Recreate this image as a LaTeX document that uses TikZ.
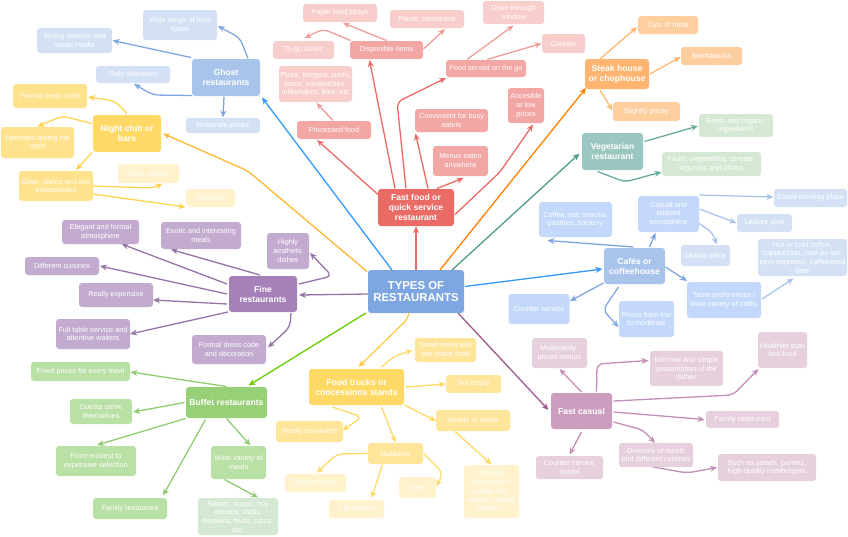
\documentclass[tikz,border=0pt]{standalone}
\usepackage{fontspec}
\setmainfont{Liberation Sans}
\usetikzlibrary{calc,arrows.meta}
\pgfdeclarelayer{bg}
\pgfsetlayers{bg,main}
\definecolor{cMain}{HTML}{7EA6E0}
\definecolor{ghostF}{HTML}{A9C4EB}
\definecolor{ghostL}{HTML}{D4E1F5}
\definecolor{ffF}{HTML}{EA6B66}
\definecolor{ffL}{HTML}{F2A7A5}
\definecolor{ffLL}{HTML}{F8CECC}
\definecolor{nightF}{HTML}{FFD966}
\definecolor{nightL}{HTML}{FFE28C}
\definecolor{nightLL}{HTML}{FFF2CC}
\definecolor{steakF}{HTML}{FFB570}
\definecolor{steakL}{HTML}{FFCE9F}
\definecolor{vegF}{HTML}{9AC7BF}
\definecolor{vegL}{HTML}{D5E8D4}
\definecolor{cafF}{HTML}{A9C4EB}
\definecolor{cafL}{HTML}{C3D8FA}
\definecolor{cafLL}{HTML}{D4E1F5}
\definecolor{fineF}{HTML}{A680B8}
\definecolor{fineL}{HTML}{C3ABD0}
\definecolor{bufF}{HTML}{97D077}
\definecolor{bufL}{HTML}{B9E0A5}
\definecolor{bufLL}{HTML}{D5E8D4}
\definecolor{truckF}{HTML}{FFD966}
\definecolor{truckL}{HTML}{FFE599}
\definecolor{truckLL}{HTML}{FFF2CC}
\definecolor{fcF}{HTML}{CC9DBE}
\definecolor{fcL}{HTML}{E6D0DE}
% edge colours
\definecolor{eGhostM}{HTML}{3399FF}
\definecolor{eNightM}{HTML}{FFB833}
\definecolor{eFF}{HTML}{EA6B66}
\definecolor{eFFL}{HTML}{F19C99}
\definecolor{eSteakM}{HTML}{FF8000}
\definecolor{eSteak}{HTML}{FFB570}
\definecolor{eVegM}{HTML}{509A8C}
\definecolor{eVeg}{HTML}{67AB9F}
\definecolor{eCafM}{HTML}{3399FF}
\definecolor{eBlue}{HTML}{7EA6E0}
\definecolor{eBlueL}{HTML}{A9C4EB}
\definecolor{eFine}{HTML}{9673A6}
\definecolor{eBufM}{HTML}{66CC00}
\definecolor{eBuf}{HTML}{8FCC6E}
\definecolor{eTruckM}{HTML}{FFC94D}
\definecolor{eNight}{HTML}{FFD34D}
\definecolor{eTruck}{HTML}{FFD966}
\definecolor{eFCM}{HTML}{A0588A}
\definecolor{eFC}{HTML}{C48FB6}
\tikzset{
  bx/.style={rectangle, rounded corners=3pt, align=center, text=white, inner sep=1pt,
    font=\fontsize{7.3}{8.7}\selectfont},
  mn/.style={bx, font=\bfseries\fontsize{8.6}{10}\selectfont},
  sz/.style 2 args={minimum width=#1pt, minimum height=#2pt},
  arr/.style={-{Stealth[length=7pt,width=6pt]}, line width=1.3pt, rounded corners=6pt},
}
\begin{document}
\begin{tikzpicture}[x=1pt,y=-1pt]
\useasboundingbox (0,0) rectangle (848,536);
% central
\node[bx, fill=cMain, sz={96}{43}, font=\bfseries\fontsize{11.4}{12.3}\selectfont] (main) at (416,291.5) {TYPES OF\\RESTAURANTS};
% ghost
\node[mn, fill=ghostF, sz={68}{37}] (ghost) at (226,77.5) {Ghost\\restaurants};
\node[bx, fill=ghostL, sz={74}{30}] (wr) at (180,25) {Wide range of food\\types};
\node[bx, fill=ghostL, sz={75}{25}] (sw) at (74.5,40.5) {Strong website and\\social media};
\node[bx, fill=ghostL, sz={74}{17}] (od) at (133,74.5) {Only deliveries};
\node[bx, fill=ghostL, sz={74}{15}] (mp) at (223,125.5) {Moderate prices};
% night club
\node[mn, fill=nightF, sz={68}{37}] (nc) at (127,133.5) {Night club or\\bars};
\node[bx, fill=nightL, sz={74}{24}] (fd) at (50,96) {Formal dress code};
\node[bx, fill=nightL, sz={73}{31}] (op) at (37.5,142.5) {Operates during the\\night};
\node[bx, fill=nightL, sz={74}{30}] (dn) at (56,186) {Diner, dance and live\\entertaiment};
\node[bx, fill=nightLL, sz={61}{19}] (fls) at (148.5,173.5) {Floor shows};
\node[bx, fill=nightLL, sz={49}{18}] (cb) at (210.5,198) {Cabarets};
% fast food
\node[mn, fill=ffF, sz={76}{37}] (ff) at (416,207.5) {Fast food or\\quick service\\restaurant};
\node[bx, fill=ffL, sz={74}{18}] (pf) at (334,130) {Processed food};
\node[bx, fill=ffLL, sz={73}{36}] (pz) at (315.5,84) {Pizza, burgers, sushi,\\tacos, sandwiches,\\milkshakes, fries, etc};
\node[bx, fill=ffL, sz={73}{18}] (di) at (386.5,50) {Disponible items};
\node[bx, fill=ffLL, sz={61}{18}] (tg) at (303.5,50) {To-go bolws};
\node[bx, fill=ffLL, sz={74}{18}] (ps) at (340,13) {Paper food strays};
\node[bx, fill=ffLL, sz={74}{18}] (pc) at (427,19) {Plastic containers};
\node[bx, fill=ffL, sz={80}{17}] (fs) at (486,68.5) {Food served on the go};
\node[bx, fill=ffLL, sz={61}{23}] (dt) at (513.5,12.5) {Drive-through\\window};
\node[bx, fill=ffLL, sz={43}{19}] (ct) at (563.5,43.5) {Counter};
\node[bx, fill=ffL, sz={73}{23}] (cv) at (451.5,120.5) {Convenient for busy\\eaters};
\node[bx, fill=ffL, sz={55}{30}] (me) at (460.5,161) {Menus eaten\\anywhere};
\node[bx, fill=ffL, sz={36}{35}] (ac) at (526,105.5) {Accesible\\or low\\prices};
% steak
\node[mn, fill=steakF, sz={64}{30}] (st) at (617,74) {Steak house\\or chophouse};
\node[bx, fill=steakL, sz={60}{18}] (cm) at (668,25) {Cuts of meat};
\node[bx, fill=steakL, sz={61}{18}] (bf) at (711.5,56) {Beefsteacks};
\node[bx, fill=steakL, sz={67}{19}] (sp) at (646.5,111.5) {Slightly pricey};
% vegetarian
\node[mn, fill=vegF, sz={61}{37}] (vg) at (612.5,151.5) {Vegetarian\\restaurant};
\node[bx, fill=vegL, sz={74}{23}] (fo) at (736,125.5) {Fresh and organic\\ingredients};
\node[bx, fill=vegL, sz={99}{24}] (fr) at (711.5,164) {Fruits, vegetables, cereals,\\legumes and others};
% cafes
\node[mn, fill=cafF, sz={61}{36}] (cf) at (634.5,266) {Cafés or\\coffeehouse};
\node[bx, fill=cafL, sz={73}{35}] (co) at (575.5,219.5) {Coffee, tea, snacks,\\pastries, backery};
\node[bx, fill=cafL, sz={61}{36}] (ca) at (668.5,214) {Casual and\\relaxed\\atmosphere};
\node[bx, fill=cafLL, sz={73}{18}] (smp) at (810.5,198) {Social meeting place};
\node[bx, fill=cafLL, sz={55}{18}] (ls) at (764.5,223) {Leisure spot};
\node[bx, fill=cafLL, sz={49}{21}] (mo) at (705.5,255.5) {Mobile office};
\node[bx, fill=cafLL, sz={89}{37}] (hc) at (802.5,257.5) {Hot or cold coffee,\\cappuccino, café au lait,\\pure espresso, caffeinated\\latte};
\node[bx, fill=cafL, sz={61}{30}] (cs) at (539,309) {Counter service};
\node[bx, fill=cafL, sz={74}{36}] (tp) at (724,300) {Taste preferences /\\wide variety of cafés};
\node[bx, fill=cafL, sz={55}{36}] (pl) at (646.5,319) {Prices from low\\to moderate};
% fine
\node[mn, fill=fineF, sz={68}{36}] (fi) at (263,294) {Fine\\restaurants};
\node[bx, fill=fineL, sz={77}{24}] (el) at (100.5,232) {Elegant and formal\\atmosphere};
\node[bx, fill=fineL, sz={80}{27}] (ex) at (201,235.5) {Exotic and interesting\\meals};
\node[bx, fill=fineL, sz={42}{36}] (ha) at (288,251) {Highly\\aesthetic\\dishes};
\node[bx, fill=fineL, sz={74}{18}] (dc) at (62,266) {Different cuisines};
\node[bx, fill=fineL, sz={74}{24}] (re) at (116,295) {Really expensive};
\node[bx, fill=fineL, sz={74}{30}] (fu) at (93,334) {Full table service and\\attentive waiters};
\node[bx, fill=fineL, sz={74}{29}] (fdd) at (229,349.5) {Formal dress code\\and decoration};
% buffet
\node[mn, fill=bufF, sz={81}{31}] (bu) at (226.5,402.5) {Buffet restaurants};
\node[bx, fill=bufL, sz={99}{19}] (fp) at (80.5,371.5) {Fixed prices for every meal};
\node[bx, fill=bufL, sz={62}{25}] (gs) at (101,411.5) {Guests serve\\themselves};
\node[bx, fill=bufL, sz={80}{30}] (ms) at (96,461) {From modest to\\expensive selection};
\node[bx, fill=bufL, sz={74}{21}] (fg) at (130,508.5) {Family restaurant};
\node[bx, fill=bufL, sz={55}{33}] (wv) at (238.5,462.5) {Wide variety of\\meals};
\node[bx, fill=bufLL, sz={80}{37}] (sl) at (238,516.5) {Salads, soups, hoy\\entrees, starts,\\desserts, fruits, pizza,\\etc.};
% food trucks
\node[mn, fill=truckF, sz={95}{36}] (ft) at (356.5,387) {Food trucks or\\concessions stands};
\node[bx, fill=truckL, sz={61}{24}] (smm) at (445.5,350) {Small menu and\\pre-made food};
\node[bx, fill=truckL, sz={55}{18}] (ncs) at (473.5,384) {Not costly};
\node[bx, fill=truckL, sz={74}{21}] (vm) at (473,420.5) {Variety of meals};
\node[bx, fill=truckL, sz={67}{21}] (rc) at (309.5,431.5) {Really convinient};
\node[bx, fill=truckL, sz={55}{21}] (ou) at (395.5,453.5) {Outdoors};
\node[bx, fill=truckLL, sz={61}{18}] (se) at (315.5,483) {Sports events};
\node[bx, fill=truckLL, sz={37}{21}] (fa) at (417.5,487.5) {Fairs};
\node[bx, fill=truckLL, sz={55}{18}] (cy) at (356.5,509) {City streets};
\node[bx, fill=truckLL, sz={55}{53}] (hd) at (491.5,491.5) {Hotdogs,\\sandwiches,\\panini, ice-\\cream, organic\\burgers...};
% fast casual
\node[mn, fill=fcF, sz={61}{36}] (fc) at (581.5,411) {Fast casual};
\node[bx, fill=fcL, sz={55}{30}] (mpm) at (559.5,353) {Moderately-\\priced menus};
\node[bx, fill=fcL, sz={73}{35}] (ip) at (686.5,368.5) {Informal and simple\\presentation of the\\dishes};
\node[bx, fill=fcL, sz={49}{36}] (ht) at (782.5,350) {Healthier than\\fast-food};
\node[bx, fill=fcL, sz={73}{17}] (frs) at (742.5,419.5) {Family restaurant};
\node[bx, fill=fcL, sz={74}{24}] (dv) at (656,455) {Diversity of meals\\and different cuisines};
\node[bx, fill=fcL, sz={67}{23}] (csm) at (569.5,467.5) {Counter service\\model};
\node[bx, fill=fcL, sz={98}{27}] (sa) at (767,467.5) {Such as salads, paninis,\\high-quality hamburgers};

\begin{pgfonlayer}{bg}
% main edges
\draw[arr, draw=eGhostM] ($(main)+(-24,-21.5)$) -- ($(ghost)+(36,20)$);
\draw[arr, draw=eNightM] ($(main)+(-49,-20)$) -- (248,171) -- ($(nc)+(36,0)$);
\draw[arr, draw=eFF] (main.north) -- (ff.south);
\draw[arr, draw=eSteakM] ($(main)+(24,-21.5)$) -- ($(st)+(-31,14)$);
\draw[arr, draw=eVegM] ($(main)+(36,-21.5)$) -- ($(vg)+(-33,2)$);
\draw[arr, draw=eCafM] ($(main)+(49,-5)$) -- ($(cf)+(-32,3)$);
\draw[arr, draw=eFine] ($(main)+(-48,2.5)$) -- ($(fi)+(36,1)$);
\draw[arr, draw=eBufM] ($(main)+(-50,21.5)$) -- ($(bu)+(22,-17)$);
\draw[arr, draw=eTruckM] ($(main)+(-7,21.5)$) -- ($(main)+(-7,26)$) -- ($(ft)+(2,-20)$);
\draw[arr, draw=eFCM] ($(main)+(42,21.5)$) -- ($(fc)+(-33,-1)$);
% fast food
\draw[arr, draw=eFF] ($(ff)+(-38,-13)$) -- ($(pf)+(-17,10)$);
\draw[arr, draw=eFF] ($(ff)+(-21,-19)$) -- ($(di)+(-17,10)$);
\draw[arr, draw=eFF] ($(ff)+(-10,-19)$) -- (397,102) -- ($(fs)+(-40,9.5)$);
\draw[arr, draw=eFF] ($(ff)+(12,-19)$) -- ($(cv)+(-36,13)$);
\draw[arr, draw=eFF] ($(ff)+(21,-19)$) -- ($(me)+(3,17)$);
\draw[arr, draw=eFF] ($(ff)+(39,7)$) -- (500,172) -- ($(ac)+(7,19)$);
\draw[arr, draw=eFFL] ($(pf)+(-1,-9.5)$) -- ($(pz)+(1,19)$);
\draw[arr, draw=eFFL] ($(di)+(-36,-9.5)$) -- (323,29) -- ($(tg)+(1,-12)$);
\draw[arr, draw=eFFL] ($(di)+(0,-9.5)$) -- ($(ps)+(3,10)$);
\draw[arr, draw=eFFL] ($(di)+(37,-1)$) -- ($(pc)+(18,10)$);
\draw[arr, draw=eFFL] ($(fs)+(-19,-9)$) -- ($(dt)+(0,13)$);
\draw[arr, draw=eFFL] ($(fs)+(1,-9)$) -- ($(ct)+(-22,0)$);
% ghost
\draw[arr, draw=eBlue] ($(ghost)+(22,-19)$) -- (240,38) -- ($(wr)+(38,1)$);
\draw[arr, draw=eBlue] ($(ghost)+(-35,-20)$) -- ($(sw)+(38,0)$);
\draw[arr, draw=eBlue] ($(ghost)+(-34,18)$) -- (153,95) -- ($(od)+(1,9.5)$);
\draw[arr, draw=eBlue] ($(ghost)+(-2,19)$) -- ($(mp)+(0,-8)$);
% night club
\draw[arr, draw=eNight] ($(nc)+(0,-20)$) -- (115,101) -- ($(fd)+(38,1)$);
\draw[arr, draw=eNight] ($(nc)+(-35,-10)$) -- (62,116) -- ($(op)+(0,-16)$);
\draw[arr, draw=eNight] ($(nc)+(-35,19)$) -- ($(dn)+(20,-16)$);
\draw[arr, draw=eNight] ($(dn)+(37,0)$) -- (154,188) -- ($(fls)+(14,10)$);
\draw[arr, draw=eNight] ($(dn)+(37,8)$) -- ($(cb)+(-25,9)$);
% steak
\draw[arr, draw=eSteak] ($(st)+(-17,-15)$) -- ($(cm)+(-31,2)$);
\draw[arr, draw=eSteak] ($(st)+(33,0)$) -- ($(bf)+(-31,1)$);
\draw[arr, draw=eSteak] ($(st)+(-17,16)$) -- ($(sp)+(-34,-1)$);
% vegetarian
\draw[arr, draw=eVeg] ($(vg)+(32,-10)$) -- ($(fo)+(-38,0.5)$);
\draw[arr, draw=eVeg] ($(vg)+(-15,20)$) -- (625,182) -- ($(fr)+(-50,8)$);
% cafes
\draw[arr, draw=eBlue] ($(cf)+(-1,-19)$) -- ($(co)+(-28,21)$);
\draw[arr, draw=eBlue] ($(cf)+(15,-19)$) -- ($(ca)+(-13,19)$);
\draw[arr, draw=eBlue] ($(cf)+(-16,21)$) -- (603,310) -- ($(pl)+(-28,8)$);
\draw[arr, draw=eBlue] ($(cf)+(-31,17)$) -- ($(cs)+(31,-8)$);
\draw[arr, draw=eBlue] ($(cf)+(31,1)$) -- ($(tp)+(-37,-19)$);
\draw[arr, draw=eBlueL] ($(ca)+(31,-19)$) -- ($(smp)+(-37,-1)$);
\draw[arr, draw=eBlueL] ($(ca)+(31,-5)$) -- ($(ls)+(-28,0)$);
\draw[arr, draw=eBlueL] ($(ca)+(30,9)$) -- (713,233) -- ($(mo)+(11,-11)$);
\draw[arr, draw=eBlueL] ($(tp)+(38,-1)$) -- ($(hc)+(-9,21)$);
% fine
\draw[arr, draw=eFine] ($(fi)+(-36,-10)$) -- ($(el)+(21,12)$);
\draw[arr, draw=eFine] ($(fi)+(-3,-19)$) -- ($(ex)+(-30,14)$);
\draw[arr, draw=eFine] ($(fi)+(36,-10)$) -- (332,276) -- ($(ha)+(22,2)$);
\draw[arr, draw=eFine] ($(fi)+(-36,0)$) -- ($(dc)+(38,0)$);
\draw[arr, draw=eFine] ($(fi)+(-36,10)$) -- ($(re)+(37,5)$);
\draw[arr, draw=eFine] ($(fi)+(-35,18)$) -- ($(fu)+(37,0)$);
\draw[arr, draw=eFine] ($(fi)+(28,19)$) -- (290,327) -- ($(fdd)+(39,-2)$);
% buffet
\draw[arr, draw=eBuf] ($(bu)+(0,-16)$) -- ($(fp)+(50,0.5)$);
\draw[arr, draw=eBuf] ($(bu)+(-42,0)$) -- ($(gs)+(32,0.5)$);
\draw[arr, draw=eBuf] ($(bu)+(-41,16)$) -- ($(ms)+(1,-16)$);
\draw[arr, draw=eBuf] ($(bu)+(-21,17)$) -- ($(fg)+(33,-13)$);
\draw[arr, draw=eBuf] ($(bu)+(0,16)$) -- ($(wv)+(12,-17)$);
\draw[arr, draw=eBuf] ($(wv)+(-14,17)$) -- ($(sl)+(20,-19)$);
% food trucks
\draw[arr, draw=eTruck] ($(ft)+(25,-20)$) -- (393,357) -- ($(smm)+(-33,0)$);
\draw[arr, draw=eTruck] ($(ft)+(49,0)$) -- ($(ncs)+(-28,0)$);
\draw[arr, draw=eTruck] ($(ft)+(48,18)$) -- ($(vm)+(-37,0.5)$);
\draw[arr, draw=eTruck] ($(ft)+(-24,20)$) -- (362,417) -- ($(rc)+(33,-1)$);
\draw[arr, draw=eTruck] ($(ft)+(25,20)$) -- ($(ou)+(0,-11)$);
\draw[arr, draw=eTruck] ($(ou)+(-28,0)$) -- (337,454) -- ($(se)+(1,-10)$);
\draw[arr, draw=eTruck] ($(ou)+(-13,11)$) -- ($(cy)+(15,-11)$);
\draw[arr, draw=eTruck] ($(ou)+(28,0)$) -- (443,473) -- ($(fa)+(19,-1)$);
\draw[arr, draw=eTruck] ($(vm)+(-18,11)$) -- ($(hd)+(0,-27)$);
% fast casual
\draw[arr, draw=eFC] ($(fc)+(0,-19)$) -- ($(mpm)+(0,16)$);
\draw[arr, draw=eFC] ($(fc)+(15,-19)$) -- (597,364) -- ($(ip)+(-38,-8)$);
\draw[arr, draw=eFC] ($(fc)+(32,-10)$) -- (733,395) -- ($(ht)+(-24,19)$);
\draw[arr, draw=eFC] ($(fc)+(32,1)$) -- ($(frs)+(-38,0)$);
\draw[arr, draw=eFC] ($(fc)+(32,11)$) -- (643,430) -- ($(dv)+(-1,-12)$);
\draw[arr, draw=eFC] ($(fc)+(0,21)$) -- ($(csm)+(0,-13)$);
\draw[arr, draw=eFC] ($(dv)+(-3,12)$) -- (687,473) -- ($(sa)+(-50,0)$);
\end{pgfonlayer}
\end{tikzpicture}
\end{document}
